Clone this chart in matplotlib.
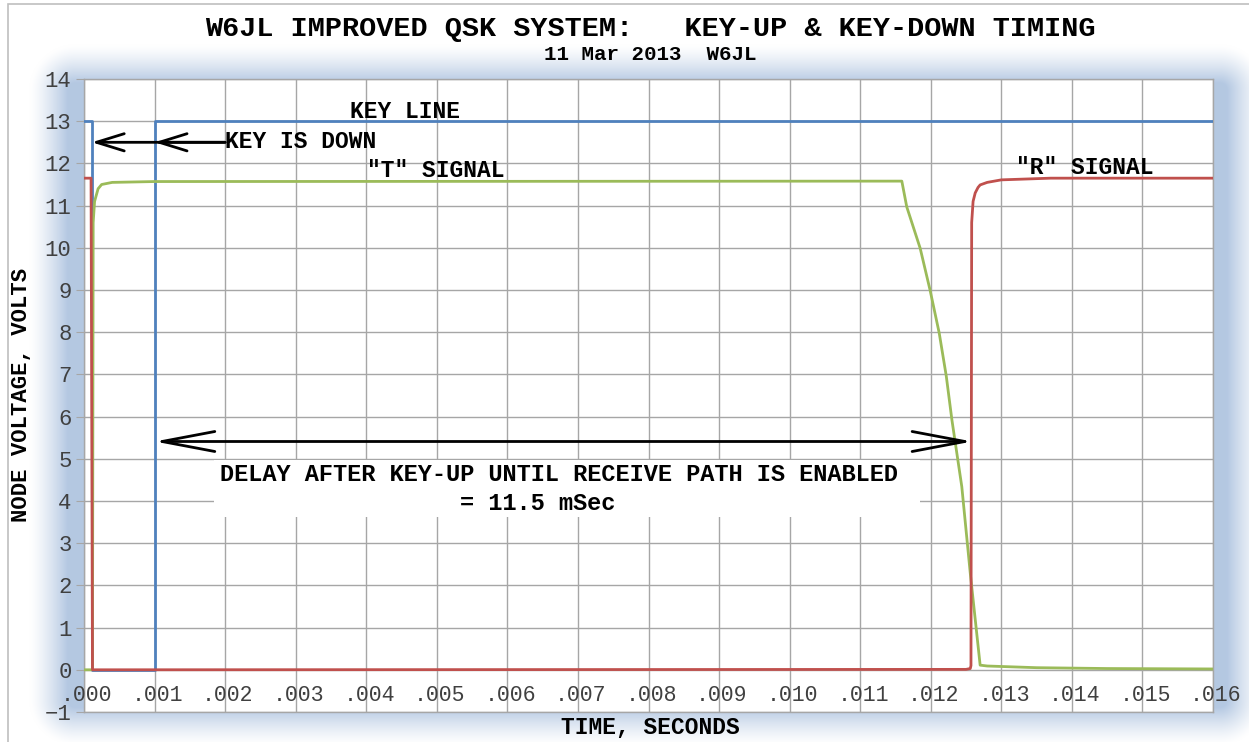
import numpy as np
import matplotlib
matplotlib.use("Agg")
import matplotlib.pyplot as plt
from matplotlib.patches import Rectangle, FancyArrowPatch, ArrowStyle

# --- data ---
key_t = [0, 0.00011, 0.00011, 0.001, 0.001, 0.016]
key_v = [13, 13, 0, 0, 13, 13]

t_sig_t = [0, 0.00012, 0.00013, 0.00015, 0.0002, 0.00025, 0.0004, 0.001,
           0.01159, 0.01166, 0.01185, 0.01199, 0.01212, 0.01222, 0.0123,
           0.01244, 0.01256, 0.0127, 0.0128, 0.0135, 0.0145, 0.016]
t_sig_v = [0, 0, 10.6, 11.1, 11.4, 11.5, 11.55, 11.57,
           11.58, 10.97, 9.99, 9.0, 7.98, 6.96, 5.92,
           4.34, 2.29, 0.11, 0.09, 0.05, 0.03, 0.02]

r_sig_t = [0, 0.0001, 0.00012, 0.0125, 0.01256, 0.01257, 0.01258, 0.0126,
           0.01263, 0.01267, 0.0127, 0.0128, 0.013, 0.0137, 0.016]
r_sig_v = [11.65, 11.65, 0, 0.01, 0.03, 0.1, 10.6, 11.1,
           11.3, 11.43, 11.49, 11.55, 11.61, 11.65, 11.65]

x_ticks = [i / 1000 for i in range(17)]
x_tick_labels = [f".{i:03d}" for i in range(17)]
y_ticks = list(range(-1, 15))

FONT = "Liberation Mono"
BLUE = "#4F81BD"
RED = "#C0504D"
GREEN = "#9BBB59"
GRID = "#A6A6A6"

W, H = 1249, 742
fig = plt.figure(figsize=(W / 100, H / 100), dpi=100, facecolor="white")

# soft blue glow around the plot area
bg = fig.add_axes([0, 0, 1, 1], zorder=-5)
bg.set_axis_off()
yy, xx = np.mgrid[0:H, 0:W] + 0.5
cx, cy = (30 + 1265) / 2, (45 + 745) / 2
bx, by, r = (1265 - 30) / 2, (745 - 45) / 2, 45
qx = np.abs(xx - cx) - (bx - r)
qy = np.abs(yy - cy) - (by - r)
sd = np.hypot(np.maximum(qx, 0), np.maximum(qy, 0)) + np.minimum(np.maximum(qx, qy), 0) - r
k = np.clip(-sd / 38, 0, 1) ** 1.3
glow = np.array([0xB4, 0xC8, 0xE2]) / 255
img = np.ones((H, W, 3)) * (1 - k[..., None]) + glow * k[..., None]
bg.imshow(img, extent=[0, 1, 0, 1], aspect="auto", interpolation="bilinear")
bg.set_xlim(0, 1)
bg.set_ylim(0, 1)

# outer chart border
fig.patches.append(Rectangle((8 / W, -0.02), 1.05, 1 - 4 / H + 0.02,
                             transform=fig.transFigure, fill=False,
                             edgecolor="#BFBFBF", linewidth=1.2, zorder=-4))

ax = fig.add_axes([84 / W, 1 - 712 / H, (1213 - 84) / W, (712 - 79) / H])
ax.set_facecolor("white")
ax.set_xlim(0, 0.016)
ax.set_ylim(-1, 14)
ax.set_xticks(x_ticks)
ax.set_yticks(y_ticks)
ax.set_xticklabels([])
ax.set_yticklabels([str(v).replace("-", "\u2212") for v in y_ticks],
                   fontfamily=FONT, fontsize=16, color="#404040")
ax.tick_params(axis="y", length=6, color=GRID, pad=3)
ax.tick_params(axis="x", length=0)
ax.grid(True, color=GRID, linewidth=1.0)
ax.set_axisbelow(True)
for s in ax.spines.values():
    s.set_color(GRID)
    s.set_linewidth(1.0)

for xv, lab in zip(x_ticks, x_tick_labels):
    ax.text(xv + 0.00004, -0.62, lab, ha="center", va="center",
            fontfamily=FONT, fontsize=15.5, color="#404040", zorder=6)

ax.plot(key_t, key_v, color=BLUE, linewidth=2.0, zorder=3)
ax.plot(t_sig_t, t_sig_v, color=GREEN, linewidth=2.0, zorder=3)
ax.plot(r_sig_t, r_sig_v, color=RED, linewidth=2.0, zorder=3)

txt = dict(fontfamily=FONT, fontweight="bold", color="black")
ax.text(0.00455, 13.22, "KEY LINE", ha="center", va="center", fontsize=16.5, **txt)
ax.text(0.0020, 12.52, "KEY IS DOWN", ha="left", va="center", fontsize=16.5, **txt)
ax.text(0.00498, 11.84, '"T" SIGNAL', ha="center", va="center", fontsize=16.5, **txt)
ax.text(0.01418, 11.9, '"R" SIGNAL', ha="center", va="center", fontsize=16.5, **txt)

# arrows
small = ArrowStyle("->", head_length=20, head_width=6.2)
for tip in (0.00011, 0.001):
    ax.add_patch(FancyArrowPatch((0.00200, 12.5), (tip, 12.5), arrowstyle=small,
                                 mutation_scale=1, shrinkA=0, shrinkB=0,
                                 color="black", linewidth=2.0, zorder=5))
big = ArrowStyle("<->", head_length=38, head_width=7.2)
ax.add_patch(FancyArrowPatch((0.001, 5.41), (0.01259, 5.41), arrowstyle=big,
                             mutation_scale=1, shrinkA=0, shrinkB=0,
                             color="black", linewidth=2.0, zorder=5))

ax.add_patch(Rectangle((0.00184, 3.63), 0.01001, 1.34, facecolor="white",
                       edgecolor="none", zorder=2))
ax.text(0.00673, 4.63, "DELAY AFTER KEY-UP UNTIL RECEIVE PATH IS ENABLED",
        ha="center", va="center", fontsize=17, zorder=6, **txt)
ax.text(0.00643, 3.94, "= 11.5 mSec", ha="center", va="center", fontsize=17,
        zorder=6, **txt)

fig.text(650 / W, 1 - 29 / H, "W6JL IMPROVED QSK SYSTEM:   KEY-UP & KEY-DOWN TIMING",
         ha="center", va="center", fontsize=20.5, **txt)
fig.text(650 / W, 1 - 54 / H, "11 Mar 2013  W6JL", ha="center", va="center",
         fontsize=15, **txt)
fig.text(650 / W, 1 - 727 / H, "TIME, SECONDS", ha="center", va="center",
         fontsize=16.5, **txt)
fig.text(22 / W, 1 - 395 / H, "NODE VOLTAGE, VOLTS", ha="center", va="center",
         rotation=90, fontsize=16, **txt)

fig.savefig("out.png", dpi=100, facecolor="white")
